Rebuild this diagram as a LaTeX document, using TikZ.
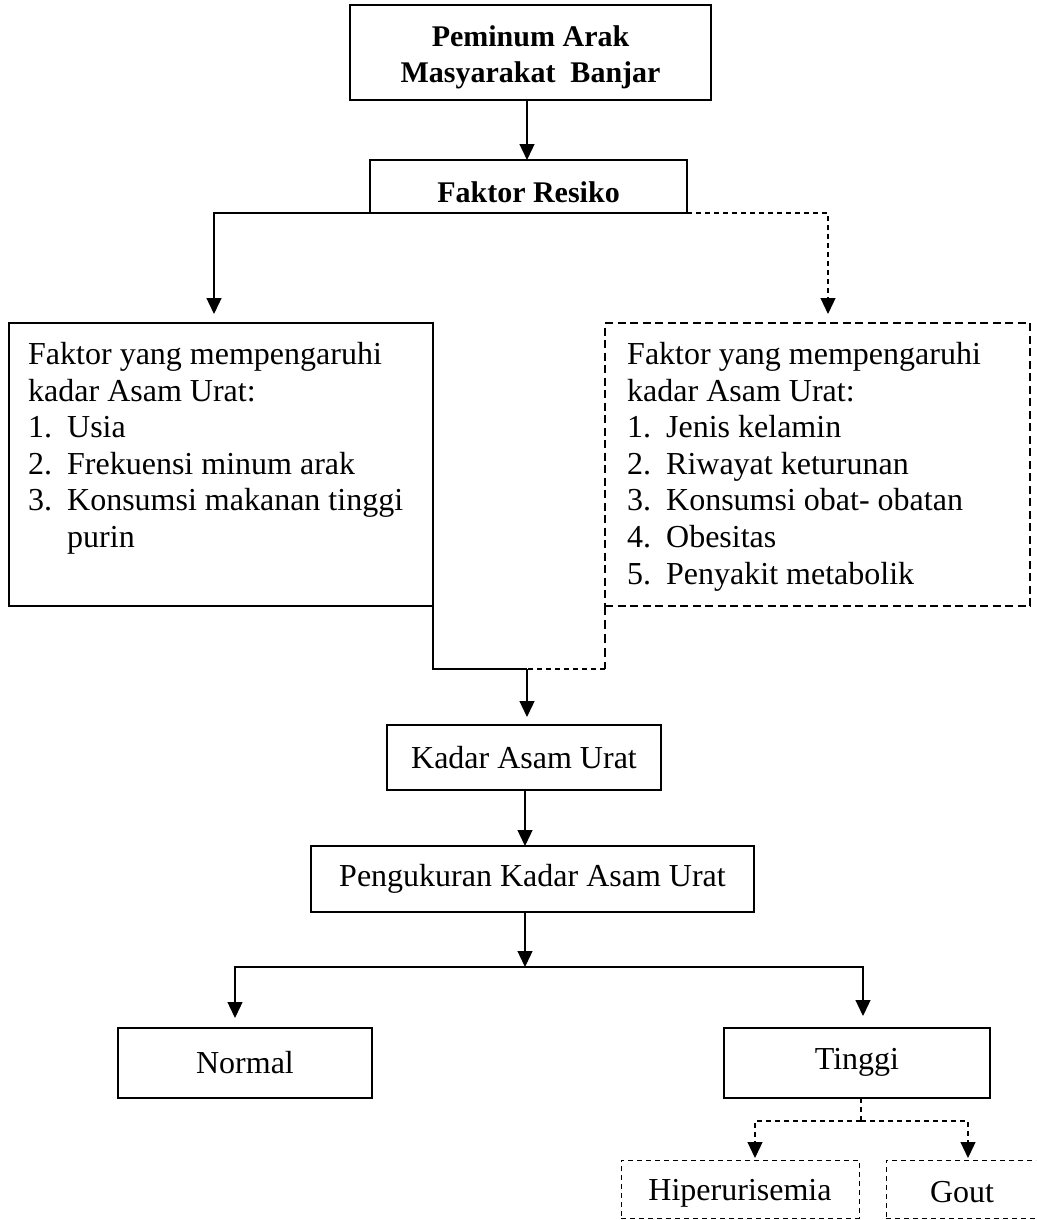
\documentclass[tikz,border=0pt]{standalone}
\usepackage{fontspec}
\setmainfont{Liberation Serif}
\usetikzlibrary{arrows.meta}
\begin{document}
\begin{tikzpicture}[x=1pt,y=-1pt,
  box/.style={draw, line width=1.3pt, inner sep=0pt, outer sep=0pt, font=\fontsize{32}{37}\selectfont},
  btext/.style={inner sep=0pt, font=\fontsize{30}{36}\selectfont\bfseries, align=center},
  dbox/.style={box, line width=2.2pt, dash pattern=on 8pt off 4.5pt},
  tbox/.style={box, line width=1pt, dash pattern=on 5pt off 4pt},
  plain/.style={inner sep=0pt, font=\fontsize{32}{37}\selectfont},
  listtext/.style={inner sep=0pt, anchor=north west, align=left, font=\fontsize{32}{36.6}\selectfont},
  conn/.style={line width=1.3pt},
  dconn/.style={line width=1.2pt, dash pattern=on 5pt off 4pt},
  hconn/.style={line width=2pt, dash pattern=on 9pt off 5pt},
  arr/.style={conn, -{Triangle[width=15pt,length=16pt]}},
  darr/.style={dconn, -{Triangle[width=15pt,length=16pt]}}
]
\useasboundingbox (0,0) rectangle (1036,1220);
\clip (0,0) rectangle (1036,1220);

% boxes
\node[box, minimum width=361pt, minimum height=95pt] (top) at (530.5,52.5) {};
\node[btext] (toptext) at (530.5,57) {Peminum Arak\\Masyarakat\ \ Banjar};
\node[box, minimum width=317pt, minimum height=53pt] (fr) at (528.5,186.5) {};
\node[btext] (frtext) at (528.5,192) {Faktor Resiko};
\node[box, minimum width=424pt, minimum height=283pt] (lb) at (221,464.5) {};
\node[dbox, minimum width=425pt, minimum height=283pt] (rb) at (817.5,464.5) {};
\node[listtext] (lt) at (28,342) {Faktor yang mempengaruhi\\kadar Asam Urat:\\\makebox[39pt][l]{1.}Usia\\\makebox[39pt][l]{2.}Frekuensi minum arak\\\makebox[39pt][l]{3.}Konsumsi makanan tinggi\\\hspace*{39pt}purin};
\node[listtext] (rt) at (627,342) {Faktor yang mempengaruhi\\kadar Asam Urat:\\\makebox[39pt][l]{1.}Jenis kelamin\\\makebox[39pt][l]{2.}Riwayat keturunan\\\makebox[39pt][l]{3.}Konsumsi obat- obatan\\\makebox[39pt][l]{4.}Obesitas\\\makebox[39pt][l]{5.}Penyakit metabolik};
\node[box, minimum width=274pt, minimum height=65pt] (kad) at (524,757.5) {Kadar Asam Urat};
\node[box, minimum width=443pt, minimum height=66pt] (peng) at (532.5,879) {Pengukuran Kadar Asam Urat};
\node[box, minimum width=254pt, minimum height=70pt] (nor) at (245,1063) {Normal};
\node[box, minimum width=266pt, minimum height=70pt] (tin) at (857,1063) {};
\node[plain] (tintext) at (857,1062) {Tinggi};
\node[tbox, minimum width=238pt, minimum height=58pt] (hip) at (740,1189) {};
\node[plain] (hiptext) at (740,1193) {Hiperurisemia};
\node[tbox, minimum width=152pt, minimum height=58pt] (gout) at (962,1189) {};
\node[plain] (gouttext) at (962,1192) {Gout};

% connectors
\draw[arr] ([xshift=-3.5pt]top.south) -- ([xshift=-1.5pt]fr.north);
\draw[arr, shorten >=9pt] (fr.south west) -| ([xshift=-7pt]lb.north);
\draw[darr, shorten >=9pt] (fr.south east) -| ([xshift=10.5pt]rb.north);

\coordinate (m) at (527,669);
\draw[conn] (lb.south east) |- (m);
\draw[hconn] (rb.south west) -- (rb.south west |- m);
\draw[dconn] (rb.south west |- m) -- (m);
\draw[arr, shorten >=8pt] (m) -- (m |- kad.north);
\draw[arr] ([xshift=1pt]kad.south) -- ([xshift=1pt]kad.south |- peng.north);

\coordinate (s) at (525,967);
\draw[arr] (s |- peng.south) -- (s);
\draw[arr, shorten >=10pt] (s) -| ([xshift=-10pt]nor.north);
\draw[arr, shorten >=12pt] (s) -| ([xshift=6pt]tin.north);

\coordinate (t) at (861,1121);
\draw[dconn] (t |- tin.south) -- (t);
\draw[darr, shorten >=2pt] (t) -| ([xshift=15pt]hip.north);
\draw[darr, shorten >=2pt] (t) -| ([xshift=6pt]gout.north);
\end{tikzpicture}
\end{document}
